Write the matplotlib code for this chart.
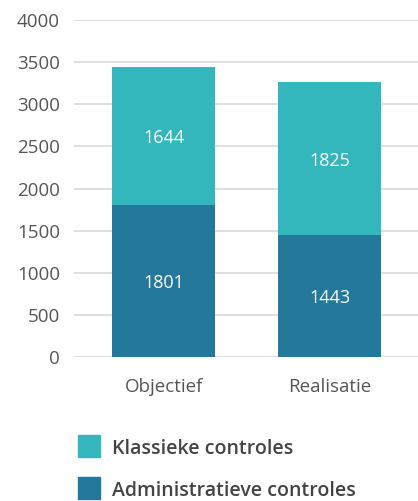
import matplotlib
matplotlib.use("Agg")
import matplotlib.pyplot as plt
from matplotlib.patches import Rectangle

categories = ["Objectief", "Realisatie"]
administratieve = [1801, 1443]
klassieke = [1644, 1825]
series_names = ["Klassieke controles", "Administratieve controles"]
yticks = [0, 500, 1000, 1500, 2000, 2500, 3000, 3500, 4000]

c_teal = "#33b7bc"
c_blue = "#23789c"

plt.rcParams['font.family'] = ['Open Sans', 'DejaVu Sans']

fig = plt.figure(figsize=(4.18, 5.01), dpi=100)
ax = fig.add_axes([0.177, 0.2874, 0.823, 0.6727])

x = list(range(len(categories)))
w = 0.62
ax.bar(x, administratieve, width=w, color=c_blue, zorder=3)
ax.bar(x, klassieke, width=w, bottom=administratieve, color=c_teal, zorder=3)

for i in x:
    ax.text(i, administratieve[i] / 2, str(administratieve[i]), ha="center",
            va="center_baseline", color="white", fontsize=13, zorder=4)
    ax.text(i, administratieve[i] + klassieke[i] / 2, str(klassieke[i]), ha="center",
            va="center_baseline", color="white", fontsize=13, zorder=4)

ax.set_xlim(-0.54, 1.53)
ax.set_ylim(0, 4000)
ax.set_yticks(yticks)
ax.set_xticks(x)
ax.set_xticklabels(categories)
ax.yaxis.grid(True, color="#d9d9d9", linewidth=1.2, zorder=0)
ax.set_axisbelow(True)
for s in ax.spines.values():
    s.set_visible(False)
ax.tick_params(axis="both", length=0, labelsize=13.5, colors="#555555")
ax.tick_params(axis="y", pad=10)
ax.tick_params(axis="x", pad=15)

# legend
colors = [c_teal, c_blue]
ys = [446, 488]
for name, col, yc in zip(series_names, colors, ys):
    fy = 1 - yc / 501
    fig.patches.append(Rectangle((78 / 418, fy - 11 / 501), 22 / 418, 22 / 501,
                                 transform=fig.transFigure, color=col))
    fig.text(112 / 418, fy, name, ha="left", va="center_baseline", fontsize=14,
             color="#444444", fontweight="semibold")

fig.savefig("out.png", dpi=100)
